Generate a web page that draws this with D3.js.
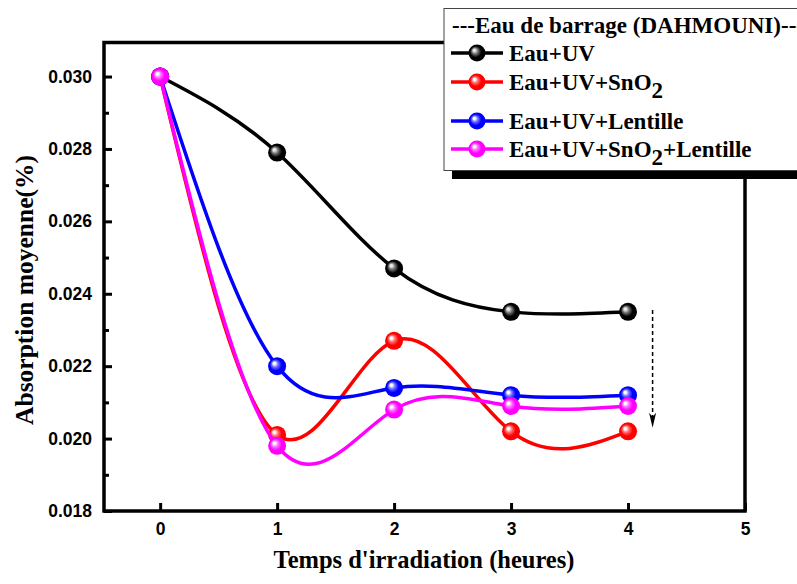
<!DOCTYPE html>
<html>
<head>
<meta charset="utf-8">
<script src="https://cdn.jsdelivr.net/npm/d3@7"></script>
<style>
  html, body { margin: 0; padding: 0; background: #fff; }
  svg { display: block; }
</style>
</head>
<body>
<div id="chart"></div>
<script>
// ---- Data ----
const hours = [0, 1, 2, 3, 4];
const eauUV = [0.0300, 0.0279, 0.0247, 0.0235, 0.0235];
const eauUVSnO2 = [0.0300, 0.0201, 0.0227, 0.0202, 0.0202];
const eauUVLentille = [0.0300, 0.0220, 0.0214, 0.0212, 0.0212];
const eauUVSnO2Lentille = [0.0300, 0.0198, 0.0208, 0.0209, 0.0209];
const xTicks = [0, 1, 2, 3, 4, 5];
const yTicks = [0.018, 0.020, 0.022, 0.024, 0.026, 0.028, 0.030];
const yMinorTicks = [0.019, 0.021, 0.023, 0.025, 0.027, 0.029];
const legendTitle = "---Eau de barrage (DAHMOUNI)---";
const seriesNames = [
  ["Eau+UV"],
  ["Eau+UV+SnO", "2"],
  ["Eau+UV+Lentille"],
  ["Eau+UV+SnO", "2", "+Lentille"]
];
const seriesColors = ["#000000", "#ff0000", "#0000ff", "#ff00ff"];
const seriesValues = [eauUV, eauUVSnO2, eauUVLentille, eauUVSnO2Lentille];
const arrowAnnot = { x: 4.21, yStart: 0.02355, yEnd: 0.02030 };

(function () {
// ---- Layout ----
const W = 797, H = 584;
const pLeft = 104, pRight = 745, pTop = 42.5, pBottom = 511;

const svg = d3.select("#chart").append("svg")
  .attr("width", W).attr("height", H);

const x = d3.scaleLinear().domain([-0.48, 5]).range([pLeft, pRight]);
const y = d3.scaleLinear().domain([0.018, 0.03094]).range([pBottom, pTop]);

// gradients
const defs = svg.append("defs");
function lighten(c, t) {
  return d3.interpolateRgb(c, "#ffffff")(t);
}
seriesColors.forEach((c, i) => {
  const g = defs.append("radialGradient").attr("id", "ball" + i)
    .attr("cx", "0.5").attr("cy", "0.5").attr("r", "0.55")
    .attr("fx", "0.32").attr("fy", "0.32");
  const hi = i === 0 ? "#e8e8e8" : "#ffffff";
  const mid = i === 0 ? "#777777" : lighten(c, 0.45);
  g.append("stop").attr("offset", "0%").attr("stop-color", hi);
  g.append("stop").attr("offset", "12%").attr("stop-color", hi);
  g.append("stop").attr("offset", "32%").attr("stop-color", mid);
  g.append("stop").attr("offset", "60%").attr("stop-color", c);
  g.append("stop").attr("offset", "100%").attr("stop-color", c);
});

// ---- Axes ----
const tickFont = "'Liberation Sans', Arial, sans-serif";
const serif = "'Liberation Serif', 'Times New Roman', serif";

const yAxis = d3.axisLeft(y).tickValues(yTicks).tickFormat(d3.format(".3f"))
  .tickSizeInner(-8).tickSizeOuter(0).tickPadding(20);
const gy = svg.append("g").attr("transform", `translate(${pLeft},0)`).call(yAxis);
gy.select(".domain").remove();
gy.selectAll(".tick line").attr("stroke", "#000").attr("stroke-width", 3);
gy.selectAll(".tick text").attr("font-family", tickFont).attr("font-weight", "bold")
  .attr("font-size", 17.5).attr("fill", "#000").attr("x", -12);

const yMinor = d3.axisLeft(y).tickValues(yMinorTicks).tickFormat("").tickSizeInner(-5).tickSizeOuter(0);
const gym = svg.append("g").attr("transform", `translate(${pLeft},0)`).call(yMinor);
gym.select(".domain").remove();
gym.selectAll(".tick line").attr("stroke", "#000").attr("stroke-width", 3);

const xAxis = d3.axisBottom(x).tickValues(xTicks).tickFormat(d3.format("d"))
  .tickSizeInner(-8).tickSizeOuter(0).tickPadding(20);
const gx = svg.append("g").attr("transform", `translate(0,${pBottom})`).call(xAxis);
gx.select(".domain").remove();
gx.selectAll(".tick line").attr("stroke", "#000").attr("stroke-width", 3);
gx.selectAll(".tick text").attr("font-family", tickFont).attr("font-weight", "bold")
  .attr("font-size", 17.5).attr("fill", "#000").attr("y", 12).attr("dy", "0.71em");

// frame
svg.append("rect").attr("x", pLeft).attr("y", pTop)
  .attr("width", pRight - pLeft).attr("height", pBottom - pTop)
  .attr("fill", "none").attr("stroke", "#000").attr("stroke-width", 3.5);

// axis titles
svg.append("text").attr("x", 424).attr("y", 568)
  .attr("text-anchor", "middle").attr("font-family", serif).attr("font-weight", "bold")
  .attr("font-size", 24.5).attr("fill", "#000").text("Temps d'irradiation (heures)");
svg.append("text").attr("transform", "translate(33,290) rotate(-90)")
  .attr("text-anchor", "middle").attr("font-family", serif).attr("font-weight", "bold")
  .attr("font-size", 25.5).attr("fill", "#000").text("Absorption moyenne(%)");

// ---- Series ----
const line = d3.line().x((d, i) => x(hours[i])).y(d => y(d)).curve(d3.curveNatural);
seriesValues.forEach((vals, i) => {
  const g = svg.append("g");
  g.append("path").datum(vals).attr("d", line).attr("fill", "none")
    .attr("stroke", seriesColors[i]).attr("stroke-width", 3.5);
  g.selectAll("circle").data(vals).join("circle")
    .attr("cx", (d, j) => x(hours[j])).attr("cy", d => y(d)).attr("r", 9)
    .attr("fill", `url(#ball${i})`);
});

// dashed arrow
const ax = x(arrowAnnot.x), ay0 = y(arrowAnnot.yStart), ay1 = y(arrowAnnot.yEnd);
svg.append("line")
  .attr("x1", ax).attr("x2", ax)
  .attr("y1", ay0).attr("y2", ay1 - 8)
  .attr("stroke", "#000").attr("stroke-width", 1.5).attr("stroke-dasharray", "4,3");
svg.append("path")
  .attr("d", `M${ax},${ay1} L${ax - 3.5},${ay1 - 15} L${ax},${ay1 - 11} L${ax + 3.5},${ay1 - 15} Z`)
  .attr("fill", "#000");

// ---- Legend ----
const lg = svg.append("g");
lg.append("rect").attr("x", 452).attr("y", 16).attr("width", 400).attr("height", 163).attr("fill", "#000");
lg.append("rect").attr("x", 444).attr("y", 8.5).attr("width", 400).attr("height", 162)
  .attr("fill", "#fff").attr("stroke", "#444").attr("stroke-width", 1);
lg.append("text").attr("x", 452).attr("y", 33).attr("font-family", serif)
  .attr("font-weight", "bold").attr("font-size", 23).attr("fill", "#000").text(legendTitle);
const entryY = [53, 82, 121, 149];
seriesNames.forEach((parts, i) => {
  const cy = entryY[i];
  lg.append("line").attr("x1", 451).attr("x2", 503).attr("y1", cy).attr("y2", cy)
    .attr("stroke", seriesColors[i]).attr("stroke-width", 3.5);
  lg.append("circle").attr("cx", 477).attr("cy", cy).attr("r", 8.5).attr("fill", `url(#ball${i})`);
  const t = lg.append("text").attr("x", 509).attr("y", cy + 8).attr("font-family", serif)
    .attr("font-weight", "bold").attr("font-size", 23).attr("fill", "#000");
  parts.forEach((p, k) => {
    const ts = t.append("tspan").text(p);
    if (k === 1) ts.attr("dy", 8);
    if (k === 2) ts.attr("dy", -8);
  });
});
})();
</script>
</body>
</html>
